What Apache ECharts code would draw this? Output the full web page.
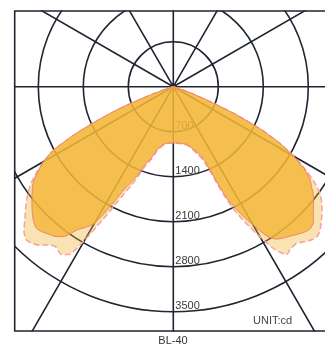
<!DOCTYPE html>
<html><head><meta charset="utf-8">
<script src="https://cdn.jsdelivr.net/npm/echarts@6/dist/echarts.min.js"></script>
<style>html,body{margin:0;padding:0;background:#fff}#c{width:325px;height:350px}#err{position:absolute;left:0;top:0;font:9px monospace;color:red;white-space:pre-wrap;width:320px}</style>
</head><body><div id="c"></div><div id="err"></div>
<script>
// radius tick labels (cd)
const radiusTicks = [700, 1400, 2100, 2800, 3500];
// gamma angles from nadir (degrees); left side positive, right side mirrored
const angles = [0,5,10,14,17,20,22,23,24,25,26,27,28,30,32,34,36,38,40,42,44,46,48,50,52,54,56,58,60,62,64,66,68,70,72,75,80,90];
// dark (solid) curve
const darkLeft  = [875,878,915,1000,1150,1290,1480,1560,1640,1720,1830,1980,2150,2460,2580,2690,2880,2960,3000,3040,3065,3020,2950,2870,2790,2710,2620,2480,2330,2130,1760,1310,890,420,150,30,0,0];
const darkRight = [875,877,900,930,1000,1090,1160,1250,1450,1750,1980,2100,2250,2480,2740,2860,2910,2950,3000,3045,3070,3030,2930,2850,2770,2660,2560,2390,2160,1880,1530,1080,620,330,120,30,0,0];
// light (dashed) curve
const lightLeft  = [880,885,925,1020,1180,1350,1560,1660,1760,1870,2000,2170,2350,2750,3080,3140,3090,3120,3220,3280,3300,3230,3110,3000,2900,2790,2660,2500,2320,2100,1700,1250,820,380,130,30,0,0];
const lightRight = [880,882,910,945,1020,1120,1220,1350,1550,1850,2080,2250,2400,2700,2990,3150,3110,3100,3150,3210,3230,3180,3100,3020,2930,2820,2640,2420,2170,1880,1520,1060,600,300,110,25,0,0];
const chartName = 'BL-40';
const unitText = 'UNIT:cd';

function build(left, right) {
  const d = [];
  for (let i = angles.length - 1; i >= 1; i--) d.push([right[i], 360 - angles[i]]);
  d.push([left[0], 0]);
  for (let i = 1; i < angles.length; i++) d.push([left[i], angles[i]]);
  return d;
}

const gridColor = '#1f2531';
const step = radiusTicks[0];
const lastTick = radiusTicks[radiusTicks.length - 1];
const axisMax = lastTick + 2 * step;          // axis runs past the last circle so spokes reach the frame
const pxPerCd = 225 / lastTick;
const cx = 173.3, cy = 86.7;
const circleColors = [gridColor, gridColor, gridColor, gridColor, gridColor, gridColor, 'rgba(0,0,0,0)', 'rgba(0,0,0,0)'];
try {
const chart = echarts.init(document.getElementById('c'));
chart.setOption({
  animation: false,
  polar: { center: [cx, cy], radius: axisMax * pxPerCd },
  angleAxis: { type: 'value', min: 0, max: 360, interval: 30, startAngle: 270, clockwise: true,
      axisLine: { show: false }, axisTick: { show: false }, axisLabel: { show: false },
      splitLine: { show: true, lineStyle: { color: gridColor, width: 1.6 } } },
  radiusAxis: { type: 'value', min: 0, max: axisMax, interval: step,
      axisLine: { show: false }, axisTick: { show: false },
      axisLabel: { show: true, color: '#3a3a3a', fontSize: 11,
        formatter: v => (v > 0 && v <= lastTick) ? String(v) : '',
        fontFamily: 'Liberation Sans, Arial, sans-serif', align: 'left', verticalAlign: 'bottom', margin: 2 },
      splitLine: { show: true, lineStyle: { color: circleColors, width: 1.6 } } },
  series: [
    { type: 'line', coordinateSystem: 'polar', data: build(lightLeft, lightRight), showSymbol: false, smooth: 0.2, z: 3,
      lineStyle: { color: '#f4a3a0', width: 1.5, type: [6, 3] },
      areaStyle: { color: 'rgba(242,175,36,0.35)', opacity: 1 } },
    { type: 'line', coordinateSystem: 'polar', data: build(darkLeft, darkRight), showSymbol: false, smooth: 0.2, z: 4,
      lineStyle: { color: '#f0806a', width: 1 },
      areaStyle: { color: 'rgba(244,182,56,0.8)', opacity: 1 } }
  ],
  graphic: [
    { type: 'rect', z: 100, shape: { x: 0, y: 0, width: 14, height: 350 }, style: { fill: '#fff' } },
    { type: 'rect', z: 100, shape: { x: 0, y: 0, width: 325, height: 10.4 }, style: { fill: '#fff' } },
    { type: 'rect', z: 100, shape: { x: 0, y: 331.6, width: 325, height: 20 }, style: { fill: '#fff' } },
    { type: 'polyline', z: 101, shape: { points: [[326, 11], [14.7, 11], [14.7, 331], [326, 331]] },
      style: { stroke: gridColor, lineWidth: 1.6, fill: null } },
    { type: 'text', z: 102, x: 253, y: 315, style: { text: unitText, fill: '#444', fontSize: 11,
      fontFamily: 'Liberation Sans, Arial, sans-serif' } },
    { type: 'text', z: 102, x: 173, y: 335, style: { text: chartName, fill: '#333', fontSize: 11,
      fontFamily: 'Liberation Sans, Arial, sans-serif', align: 'center' } }
  ]
});
} catch (e) { document.getElementById('err').textContent = e.stack; }
</script></body></html>
